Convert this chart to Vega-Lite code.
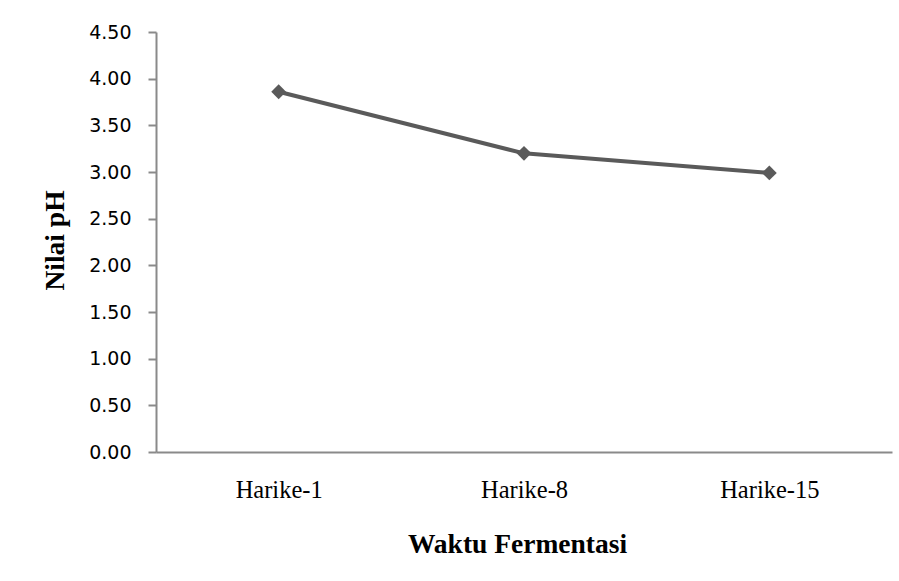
{
  "$schema": "https://vega.github.io/schema/vega-lite/v6.json",
  "width": 736,
  "height": 420,
  "autosize": "none",
  "padding": {"left": 156, "top": 32, "right": 7, "bottom": 129},
  "background": "white",
  "config": {"view": {"stroke": null}},
  "data": {
    "values": [
      {"hari": "Harike-1", "ph": 3.86},
      {"hari": "Harike-8", "ph": 3.20},
      {"hari": "Harike-15", "ph": 2.99}
    ]
  },
  "encoding": {
    "x": {
      "field": "hari",
      "type": "ordinal",
      "sort": null,
      "scale": {"padding": 0.5},
      "axis": {
        "title": "Waktu Fermentasi",
        "titleFont": "Liberation Serif",
        "titleFontSize": 27.5,
        "titleFontWeight": "bold",
        "titleColor": "#000000",
        "titleX": 361,
        "titleY": 100,
        "titleBaseline": "alphabetic",
        "labelFont": "Liberation Serif",
        "labelFontSize": 24.5,
        "labelColor": "#000000",
        "labelAngle": 0,
        "labelBaseline": "alphabetic",
        "labelPadding": 45,
        "ticks": false,
        "domainColor": "#8a8a8a",
        "domainWidth": 2,
        "grid": false
      }
    },
    "y": {
      "field": "ph",
      "type": "quantitative",
      "scale": {"domain": [0, 4.5], "nice": false},
      "axis": {
        "title": "Nilai pH",
        "titleFont": "Liberation Serif",
        "titleFontSize": 27.5,
        "titleFontWeight": "bold",
        "titleColor": "#000000",
        "titleAngle": -90,
        "titleX": -93,
        "titleY": 208,
        "titleAlign": "center",
        "titleBaseline": "alphabetic",
        "values": [0, 0.5, 1, 1.5, 2, 2.5, 3, 3.5, 4, 4.5],
        "format": ".2f",
        "labelFont": "DejaVu Sans",
        "labelFontSize": 19,
        "labelColor": "#000000",
        "labelPadding": 17,
        "tickSize": 8,
        "tickColor": "#8a8a8a",
        "tickWidth": 2,
        "domainColor": "#8a8a8a",
        "domainWidth": 2,
        "grid": false
      }
    }
  },
  "layer": [
    {"mark": {"type": "line", "color": "#5a5a5a", "strokeWidth": 4}},
    {"mark": {"type": "point", "shape": "diamond", "filled": true, "color": "#5a5a5a", "opacity": 1, "size": 220}}
  ]
}
